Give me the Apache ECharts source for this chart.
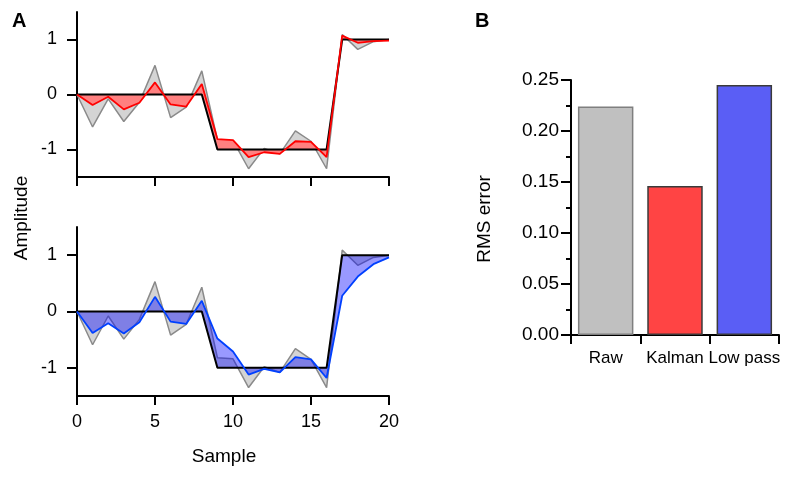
<!DOCTYPE html>
<html>
<head>
<meta charset="utf-8">
<script src="https://cdn.jsdelivr.net/npm/echarts@6/dist/echarts.min.js"></script>
<style>
html,body{margin:0;padding:0;background:#fff;}
#c{width:800px;height:478px;}
</style>
</head>
<body>
<div id="c"></div>
<script>
// ---- data ----
const samples = [0,1,2,3,4,5,6,7,8,9,10,11,12,13,14,15,16,17,18,19,20];
const truth   = [0,0,0,0,0,0,0,0,0,-1,-1,-1,-1,-1,-1,-1,-1,1,1,1,1];
const raw     = [0,-0.59,-0.08,-0.49,-0.14,0.53,-0.42,-0.23,0.43,-0.82,-0.84,-1.35,-0.98,-1.08,-0.66,-0.85,-1.35,1.09,0.82,0.96,1.0];
const kalman  = [0,-0.19,-0.04,-0.27,-0.15,0.22,-0.18,-0.22,0.19,-0.81,-0.83,-1.14,-1.05,-1.08,-0.85,-0.86,-1.14,1.07,0.94,0.97,0.98];
const lowpass = [0,-0.38,-0.21,-0.39,-0.19,0.26,-0.18,-0.22,0.19,-0.48,-0.71,-1.12,-1.02,-1.08,-0.81,-0.85,-1.18,0.28,0.62,0.84,0.96];
const xTicks = [0,5,10,15,20];
const yTicks = [-1,0,1];
const barCategories = ['Raw','Kalman','Low pass'];
const rmsError = [0.224,0.146,0.245];

// ---- styles ----
const FONT = 'Liberation Sans, Arial, sans-serif';
const barFill = ['#c0c0c0','#ff4444','#5a5ef5'];
const barBorder = ['#7f7f7f','#3a3a3a','#3a3a3a'];

function pairs(ys){ return samples.map((x,i)=>[x, ys[i]]); }

function bandSeries(est, gridIdx, fill, z){
  return {
    type:'custom', xAxisIndex:gridIdx, yAxisIndex:gridIdx, z:z,
    silent:true, clip:false,
    data:[[0,0]], encode:{x:0,y:1},
    renderItem:function(params, api){
      const pts = [];
      for (let i=0;i<samples.length;i++) pts.push(api.coord([samples[i], truth[i]]));
      for (let i=samples.length-1;i>=0;i--) pts.push(api.coord([samples[i], est[i]]));
      return {type:'polygon', shape:{points:pts}, style:{fill:fill, stroke:null}};
    }
  };
}
function lineSeries(ys, gridIdx, color, width, z){
  return {type:'line', xAxisIndex:gridIdx, yAxisIndex:gridIdx, z:z, data:pairs(ys),
    symbol:'none', silent:true, animation:false,
    lineStyle:{color:color, width:width}};
}

function xAxisLine(gridIdx, showLabels){
  return {type:'value', gridIndex:gridIdx, min:0, max:20, interval:5,
    axisLine:{show:true, onZero:false, lineStyle:{color:'#000',width:2}},
    axisTick:{show:true, inside:false, length:9, lineStyle:{color:'#000',width:2}},
    axisLabel:{show:showLabels, margin:17, color:'#000', fontSize:18, fontFamily:FONT,
      customValues:xTicks},
    splitLine:{show:false}};
}
function yAxisLine(gridIdx){
  return {type:'value', gridIndex:gridIdx, min:-1.5, max:1.5,
    axisLine:{show:true, onZero:false, lineStyle:{color:'#000',width:2}},
    axisTick:{show:true, inside:false, length:10, customValues:yTicks, lineStyle:{color:'#000',width:2}},
    axisLabel:{show:true, margin:20, color:'#000', fontSize:18, fontFamily:FONT, customValues:yTicks},
    splitLine:{show:false}};
}

const chart = echarts.init(document.getElementById('c'), null, {renderer:'canvas'});
chart.setOption({
  animation:false,
  backgroundColor:'#fff',
  grid:[
    {left:77, top:12, width:312, height:165},
    {left:77, top:227, width:312, height:169},
    {left:571, top:80, width:208, height:255}
  ],
  xAxis:[
    xAxisLine(0,false),
    xAxisLine(1,true),
    {type:'category', gridIndex:2, data:barCategories,
      axisLine:{show:true, lineStyle:{color:'#000',width:2}},
      axisTick:{show:true, alignWithLabel:false, length:9, lineStyle:{color:'#000',width:2}},
      axisLabel:{color:'#000', fontSize:17, fontFamily:FONT, margin:15, interval:0, hideOverlap:false}}
  ],
  yAxis:[
    yAxisLine(0),
    yAxisLine(1),
    {type:'value', gridIndex:2, min:0, max:0.25, interval:0.05,
      axisLine:{show:true, lineStyle:{color:'#000',width:2}},
      axisTick:{show:true, length:10, lineStyle:{color:'#000',width:2}},
      minorTick:{show:true, splitNumber:2, length:5, lineStyle:{color:'#000',width:2}},
      axisLabel:{color:'#000', fontSize:19, fontFamily:FONT, margin:12,
        formatter:function(v){return v.toFixed(2);}},
      splitLine:{show:false}}
  ],
  graphic:[
    {type:'text', left:12, top:11, style:{text:'A', font:'bold 20px '+FONT, fill:'#000'}},
    {type:'text', left:475, top:11, style:{text:'B', font:'bold 20px '+FONT, fill:'#000'}},
    {type:'text', x:22, y:218, rotation:Math.PI/2, style:{text:'Amplitude', font:'19px '+FONT, fill:'#000', align:'center', verticalAlign:'middle'}},
    {type:'text', x:224, y:457, style:{text:'Sample', font:'19px '+FONT, fill:'#000', align:'center', verticalAlign:'middle'}},
    {type:'text', x:485, y:219, rotation:Math.PI/2, style:{text:'RMS error', font:'19px '+FONT, fill:'#000', align:'center', verticalAlign:'middle'}}
  ],
  series:[
    bandSeries(raw, 0, '#d4d4d4', 2),
    lineSeries(raw, 0, '#8a8a8a', 1.5, 2),
    bandSeries(kalman, 0, '#ff8080', 3),
    lineSeries(truth, 0, '#000', 2, 4),
    lineSeries(kalman, 0, '#ff0000', 1.8, 5),
    bandSeries(raw, 1, '#d4d4d4', 2),
    lineSeries(raw, 1, '#8a8a8a', 1.5, 2),
    bandSeries(lowpass, 1, 'rgba(0,0,255,0.4)', 3),
    lineSeries(truth, 1, '#000', 2, 4),
    lineSeries(lowpass, 1, '#0040ff', 1.8, 5),
    {type:'bar', xAxisIndex:2, yAxisIndex:2, barCategoryGap:'20%', silent:true,
      data:rmsError.map((v,i)=>({value:v, itemStyle:{color:barFill[i], borderColor:barBorder[i], borderWidth:1.5}}))}
  ]
});
</script>
</body>
</html>
